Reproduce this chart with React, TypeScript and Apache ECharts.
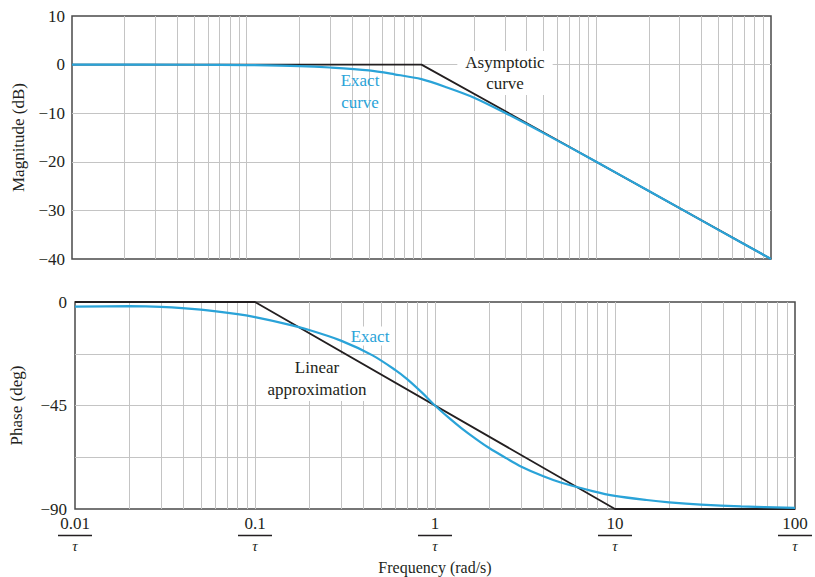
import React, { useEffect, useRef } from 'react';
import * as echarts from 'echarts';

// Frequencies are in units of 1/τ (rad/s)
const decadeLabels = [0.01, 0.1, 1, 10, 100];
const minorFreqs = [
  0.02, 0.03, 0.04, 0.05, 0.06, 0.07, 0.08, 0.09,
  0.2, 0.3, 0.4, 0.5, 0.6, 0.7, 0.8, 0.9,
  2, 3, 4, 5, 6, 7, 8, 9,
  20, 30, 40, 50, 60, 70, 80, 90,
];

// Magnitude (dB)
const magFreqs = [0.01, 0.05, 0.1, 0.2, 0.3, 0.5, 0.7, 1, 1.4, 2, 3, 5, 10, 20, 50, 100];
const magExact = [0, -0.03, -0.1, -0.3, -0.6, -1.2, -2.0, -3.0, -4.7, -6.8, -9.9, -14.1, -20.0, -26.0, -34.0, -40.0];
const magAsymFreqs = [0.01, 1, 100];
const magAsym = [0, 0, -40];
const magTicks = [10, 0, -10, -20, -30, -40];

// Phase (deg)
const phaseFreqs = [0.01, 0.02, 0.03, 0.05, 0.08, 0.1, 0.15, 0.2, 0.3, 0.45, 0.6, 0.7, 0.85, 1, 1.2, 1.4, 1.7, 2, 2.5, 3, 4, 5, 7.5, 10, 15, 20, 30, 50, 100];
const phaseExact = [-2, -1.8, -2.1, -3.3, -5.3, -6.6, -9.6, -12.2, -16.8, -23.2, -29.5, -33.5, -39.5, -45, -50.5, -54.8, -59.7, -63.5, -68, -71.5, -75.8, -78.5, -82.2, -84.3, -86.1, -87.1, -88.1, -88.9, -89.5];
const phaseLinFreqs = [0.01, 0.1, 10, 100];
const phaseLin = [0, 0, -90, -90];
const phaseTicks = [0, -45, -90];

const SERIF = 'Liberation Serif';
const BLUE = '#2aa3d8';
const BLACK = '#231f20';
const GRID = '#c4c4c4';
const TEXT = '#231f20';

const zip = (xs: number[], ys: number[]) => xs.map((x, i) => [x, ys[i]]);
const minus = (v: number) => String(v).replace('-', '\u2212');

export default function App() {
  const ref = useRef<HTMLDivElement>(null);
  useEffect(() => {
    if (!ref.current) return;
    const chart = echarts.init(ref.current, undefined, { renderer: 'svg' });
    const splitLine = {
      show: true,
      showMinLine: false,
      showMaxLine: false,
      lineStyle: { color: GRID, width: 1 },
    };
    const gridLineSeries = (idx: number) => ({
      type: 'line',
      xAxisIndex: idx,
      yAxisIndex: idx,
      data: [],
      silent: true,
      z: 1,
      markLine: {
        silent: true,
        z: 1,
        symbol: ['none', 'none'],
        label: { show: false },
        lineStyle: { color: GRID, width: 1, type: 'solid' },
        emphasis: { disabled: true },
        data: minorFreqs.map((v) => ({ xAxis: v })),
        animation: false,
      },
    });
    const option: any = {
      animation: false,
      backgroundColor: '#ffffff',
      textStyle: { fontFamily: SERIF },
      grid: [
        { left: 72, top: 16, width: 699, height: 243, show: true, borderColor: '#4a4a4a', borderWidth: 1.5, backgroundColor: 'transparent' },
        { left: 75, top: 302, width: 725, height: 207, show: true, borderColor: '#4a4a4a', borderWidth: 1.5, backgroundColor: 'transparent' },
      ],
      xAxis: [
        {
          type: 'log', logBase: 10, gridIndex: 0, min: 0.01, max: 100,
          axisLine: { show: false }, axisTick: { show: false }, axisLabel: { show: false },
          splitLine,
        },
        {
          type: 'log', logBase: 10, gridIndex: 1, min: 0.01, max: 100,
          axisLine: { show: false }, axisTick: { show: false },
          splitLine,
          name: 'Frequency (rad/s)',
          nameLocation: 'middle',
          nameGap: 50,
          nameTextStyle: { fontFamily: SERIF, fontSize: 16, color: TEXT },
          axisLabel: {
            show: true,
            margin: 5,
            showMinLabel: true,
            showMaxLabel: true,
            formatter: (v: number) => {
              const n = Number(Number(v).toPrecision(3));
              if (!decadeLabels.some((d) => Math.abs(d - n) < 1e-9)) return '';
              return `{n|${n}}\n{b| }\n{t|\u03c4}`;
            },
            rich: {
              n: { fontFamily: SERIF, fontSize: 17, lineHeight: 19, color: TEXT, align: 'center' },
              b: { width: 34, height: 1.3, lineHeight: 5, backgroundColor: TEXT, fontSize: 1, align: 'center' },
              t: { fontFamily: SERIF, fontSize: 15, fontStyle: 'italic', lineHeight: 16, color: TEXT, align: 'center' },
            },
          },
        },
      ],
      yAxis: [
        {
          type: 'value', gridIndex: 0, min: -40, max: 10, interval: 10,
          axisLine: { show: false }, axisTick: { show: false },
          splitLine,
          axisLabel: {
            margin: 7, fontFamily: SERIF, fontSize: 17, color: TEXT,
            formatter: (v: number) => (magTicks.includes(v) ? minus(v) : ''),
          },
          name: 'Magnitude (dB)',
          nameLocation: 'middle',
          nameGap: 45,
          nameTextStyle: { fontFamily: SERIF, fontSize: 17, color: TEXT },
        },
        {
          type: 'value', gridIndex: 1, min: -90, max: 0, interval: 22.5,
          axisLine: { show: false }, axisTick: { show: false },
          splitLine,
          axisLabel: {
            margin: 8, fontFamily: SERIF, fontSize: 17, color: TEXT,
            formatter: (v: number) => (phaseTicks.includes(v) ? minus(v) : ''),
          },
          name: 'Phase (deg)',
          nameLocation: 'middle',
          nameGap: 50,
          nameTextStyle: { fontFamily: SERIF, fontSize: 17, color: TEXT },
        },
      ],
      series: [
        gridLineSeries(0),
        gridLineSeries(1),
        {
          name: 'Asymptotic curve', type: 'line', xAxisIndex: 0, yAxisIndex: 0,
          data: zip(magAsymFreqs, magAsym), symbol: 'none', z: 3,
          lineStyle: { color: BLACK, width: 1.8 },
        },
        {
          name: 'Exact curve', type: 'line', xAxisIndex: 0, yAxisIndex: 0,
          data: zip(magFreqs, magExact), symbol: 'none', smooth: 0.3, z: 4,
          lineStyle: { color: BLUE, width: 2.2 },
        },
        {
          name: 'Linear approximation', type: 'line', xAxisIndex: 1, yAxisIndex: 1,
          data: zip(phaseLinFreqs, phaseLin), symbol: 'none', z: 3,
          lineStyle: { color: BLACK, width: 1.8 },
        },
        {
          name: 'Exact', type: 'line', xAxisIndex: 1, yAxisIndex: 1,
          data: zip(phaseFreqs, phaseExact), symbol: 'none', smooth: 0.3, z: 4,
          lineStyle: { color: BLUE, width: 2.2 },
        },
      ],
      graphic: [
        {
          type: 'text', x: 360, y: 91, z: 2,
          style: { text: 'Exact\ncurve', fontFamily: SERIF, fontSize: 17, fill: BLUE, align: 'center', verticalAlign: 'middle', lineHeight: 22 },
        },
        {
          type: 'text', x: 505, y: 73, z: 2,
          style: { text: 'Asymptotic\ncurve', fontFamily: SERIF, fontSize: 17, fill: TEXT, align: 'center', verticalAlign: 'middle', lineHeight: 21, backgroundColor: '#ffffff', padding: [1, 8] },
        },
        {
          type: 'text', x: 370, y: 336, z: 2,
          style: { text: 'Exact', fontFamily: SERIF, fontSize: 17, fill: BLUE, align: 'center', verticalAlign: 'middle', backgroundColor: '#ffffff', padding: [1, 2] },
        },
        {
          type: 'text', x: 317, y: 378, z: 2,
          style: { text: 'Linear\napproximation', fontFamily: SERIF, fontSize: 17, fill: TEXT, align: 'center', verticalAlign: 'middle', lineHeight: 22, backgroundColor: '#ffffff', padding: [1, 4] },
        },
      ],
    };
    chart.setOption(option);
    return () => chart.dispose();
  }, []);
  return (
    <div
      ref={ref}
      style={{ position: 'absolute', left: 0, top: 0, width: 815, height: 577 }}
    />
  );
}
